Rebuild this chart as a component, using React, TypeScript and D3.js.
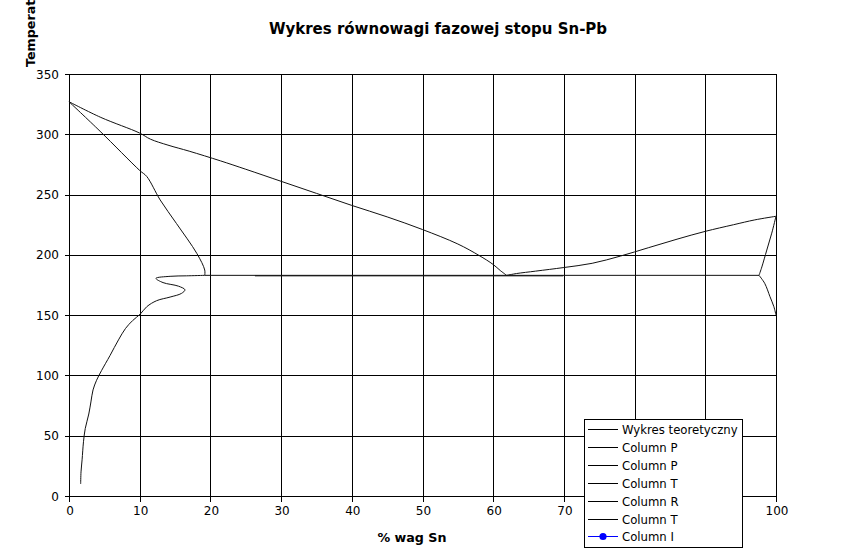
import React from "react";
import * as d3 from "d3";

const W = 866;
const H = 549;

const chartTitle = "Wykres równowagi fazowej stopu Sn-Pb";
const xTitle = "% wag Sn";
const yTitle = "Temperatura";
const xTicks = [0, 10, 20, 30, 40, 50, 60, 70, 80, 90, 100];
const yTicks = [0, 50, 100, 150, 200, 250, 300, 350];

// [wt% Sn, temperature]
const liquidusLeft: [number, number][] = [
  [0, 327], [4.5, 314], [10, 301], [11.5, 296], [14, 291], [17, 286], [21.4, 278],
  [25, 271], [30, 261], [35, 251], [40, 241], [45, 231.5], [50, 221], [55, 209],
  [58, 199.5], [60, 192], [61, 187], [61.9, 183],
];
const liquidusRight: [number, number][] = [
  [61.9, 183], [63.3, 184.5], [66, 186.5], [70, 189.5], [74, 193], [78, 199],
  [82, 206], [86, 213], [90, 219.5], [94, 225], [97, 229], [100, 232],
];
const solidusLeft: [number, number][] = [
  [0, 327], [4.4, 302.5], [10, 270], [11, 265], [12.9, 245.5], [15.2, 226],
  [18.1, 201], [19.2, 187.4], [19.2, 183],
];
const solvusLeft: [number, number][] = [
  [19.2, 183], [16.6, 182.6], [14.3, 182.2], [12.3, 180.5], [13.3, 177], [15.5, 174],
  [16.4, 171], [15.9, 168], [14.3, 165], [12.4, 162], [11, 157], [10.1, 151],
  [9, 145.5], [8, 139], [7, 129.5], [5.8, 116.5], [4.6, 104], [3.9, 96], [3.4, 88],
  [3.1, 78], [2.8, 68], [2.3, 56], [2.05, 45], [1.85, 30], [1.7, 20], [1.65, 10],
];
const eutectic: [number, number][] = [[19.2, 183], [97.6, 183]];
const eutecticOverlay: [number, number][] = [[26.3, 182.6], [69.9, 182.6]];
const solidusRight: [number, number][] = [
  [100, 232], [99.4, 218], [98.7, 204], [98, 190], [97.6, 183],
];
const solvusRight: [number, number][] = [
  [97.6, 183], [98.4, 176.4], [99.15, 165.3], [99.7, 157], [100, 150],
];

const legendLabels = [
  "Wykres teoretyczny",
  "Column P",
  "Column P",
  "Column T",
  "Column R",
  "Column T",
  "Column I",
];

const FONT = "DejaVu Sans, sans-serif";

export default function App() {
  const x = d3.scaleLinear().domain([0, 100]).range([69, 776]);
  const y = d3.scaleLinear().domain([0, 350]).range([496, 74]);
  const smooth = d3
    .line<[number, number]>()
    .x((d) => x(d[0]))
    .y((d) => y(d[1]))
    .curve(d3.curveCatmullRom.alpha(0.5));
  const straight = d3
    .line<[number, number]>()
    .x((d) => x(d[0]))
    .y((d) => y(d[1]));

  const smoothSeries = [liquidusLeft, liquidusRight, solidusLeft, solvusLeft, solidusRight, solvusRight];
  const straightSeries = [eutectic, eutecticOverlay];

  const px = (v: number) => Math.round(v) + 0.5;
  const lx = 584;
  const ly = 419;
  const lw = 158;
  const lh = 128;
  const rowH = 17.9;

  return (
    <div style={{ position: "absolute", left: 0, top: 0 }}>
      <svg width={W} height={H} style={{ display: "block", background: "#fff" }}>
        <rect x={0} y={0} width={W} height={H} fill="#fff" />
        <text
          x={438}
          y={34}
          textAnchor="middle"
          fontFamily={FONT}
          fontWeight="bold"
          fontSize={15}
          fill="#000"
        >
          {chartTitle}
        </text>
        {/* grid */}
        <g shapeRendering="crispEdges" stroke="#000" strokeWidth={1}>
          {xTicks.map((t) => (
            <line key={"gx" + t} x1={px(x(t))} x2={px(x(t))} y1={px(y(350))} y2={px(y(0)) + 5} />
          ))}
          {yTicks.map((t) => (
            <line key={"gy" + t} x1={px(x(0)) - 5} x2={px(x(100))} y1={px(y(t))} y2={px(y(t))} />
          ))}
        </g>
        {/* tick labels */}
        <g fontFamily={FONT} fontSize={12} fill="#000">
          {xTicks.map((t) => (
            <text key={"xl" + t} x={x(t) + 1} y={515} textAnchor="middle">
              {t}
            </text>
          ))}
          {yTicks.map((t) => (
            <text key={"yl" + t} x={59} y={y(t) + 4.5} textAnchor="end">
              {t}
            </text>
          ))}
        </g>
        <text
          x={412}
          y={542}
          textAnchor="middle"
          fontFamily={FONT}
          fontWeight="bold"
          fontSize={12.7}
          fill="#000"
        >
          {xTitle}
        </text>
        <text
          transform="translate(35,67) rotate(-90)"
          textAnchor="start"
          fontFamily={FONT}
          fontWeight="bold"
          fontSize={12.7}
          fill="#000"
        >
          {yTitle}
        </text>
        {/* data */}
        <g fill="none" stroke="#111" strokeWidth={1}>
          {smoothSeries.map((s, i) => (
            <path key={"s" + i} d={smooth(s) || ""} />
          ))}
          {straightSeries.map((s, i) => (
            <path key={"e" + i} d={straight(s) || ""} />
          ))}
        </g>
        {/* legend */}
        <g>
          <rect
            x={lx + 0.5}
            y={ly + 0.5}
            width={lw}
            height={lh}
            fill="#fff"
            stroke="#000"
            strokeWidth={1}
            shapeRendering="crispEdges"
          />
          {legendLabels.map((l, i) => {
            const cy = Math.round(ly + 10 + i * rowH) + 0.5;
            const last = i === legendLabels.length - 1;
            const col = last ? "#0000ff" : "#000";
            return (
              <g key={"lg" + i}>
                <line x1={588} x2={618} y1={cy} y2={cy} stroke={col} strokeWidth={1} shapeRendering="crispEdges" />
                {last && <circle cx={603} cy={cy} r={3.6} fill={col} />}
                <text x={622} y={cy + 4.2} fontFamily={FONT} fontSize={11.7} fill="#000">
                  {l}
                </text>
              </g>
            );
          })}
        </g>
      </svg>
    </div>
  );
}
